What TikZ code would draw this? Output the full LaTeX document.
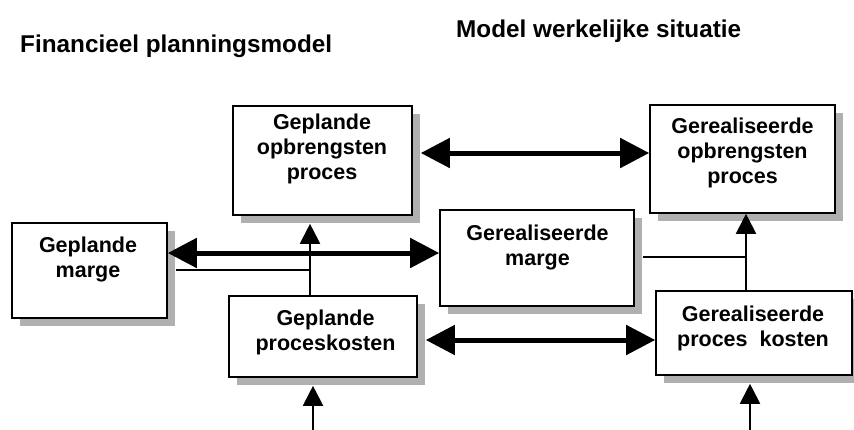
\documentclass[tikz,border=0pt]{standalone}
\usepackage{fontspec}
\setmainfont{Liberation Sans}
\usetikzlibrary{arrows.meta,shadows}
\begin{document}
\begin{tikzpicture}[x=1pt,y=-1pt,
  box/.style={draw, line width=1.6pt, fill=white, inner sep=0pt,
    general shadow={fill=gray!62, shadow xshift=8pt, shadow yshift=-8pt}},
  lbl/.style={font=\bfseries\fontsize{21.5}{25}\selectfont, align=center, inner sep=0pt},
  ttl/.style={font=\bfseries\fontsize{24.3}{28}\selectfont, inner sep=0pt},
  dbl/.style={line width=5pt, {Triangle[length=29pt,width=29pt]}-{Triangle[length=29pt,width=29pt]}},
  uparrow/.style={line width=2pt, -{Triangle[length=20pt,width=20pt]}},
  link/.style={line width=2pt}]
\useasboundingbox (0,0) rectangle (854,429);

% titles
\node[ttl, anchor=base west] (t1) at (20,52) {Financieel planningsmodel};
\node[ttl, anchor=base west] (t2) at (456,37) {Model werkelijke situatie};

% boxes
\node[box, minimum width=179pt, minimum height=109pt] (opl) at (322.5,160.5) {};
\node[box, minimum width=185pt, minimum height=108pt] (opr) at (742.5,159) {};
\node[box, minimum width=155pt, minimum height=95pt] (mgl) at (89.5,270.5) {};
\node[box, minimum width=194pt, minimum height=96pt] (mgr) at (537,258) {};
\node[box, minimum width=188pt, minimum height=81pt] (pkl) at (323,336.5) {};
\node[box, minimum width=196pt, minimum height=84pt] (pkr) at (754,333) {};

% box texts
\node[lbl] (opltxt) at (322,149) {Geplande\\opbrengsten\\proces};
\node[lbl] (oprtxt) at (742.5,153) {Gerealiseerde\\opbrengsten\\proces};
\node[lbl] (mgltxt) at (88,259) {Geplande\\marge};
\node[lbl] (mgrtxt) at (537.5,247) {Gerealiseerde\\marge};
\node[lbl] (pkltxt) at (325.5,332) {Geplande\\proceskosten};
\node[lbl] (pkrtxt) at (753,328) {Gerealiseerde\\proces\ \ kosten};

% helper points
\coordinate (rA) at (0,153);
\coordinate (rB) at (0,253);
\coordinate (rC) at (0,340);
\coordinate (jl) at (310,270);
\coordinate (jr) at (746,257);
\coordinate (inl) at (313,440);
\coordinate (inr) at (750,440);

% comparison arrows
\draw[dbl] ([xshift=8pt]opl.east |- rA) -- (opr.west |- rA);
\draw[dbl] (mgl.east |- rB) -- (mgr.west |- rB);
\draw[dbl] ([xshift=8pt]pkl.east |- rC) -- (pkr.west |- rC);

% left column links
\draw[link] ([xshift=8pt]mgl.east |- jl) -- (jl);
\draw[uparrow] (pkl.north -| jl) -- ([yshift=-8pt]opl.south -| jl);
\draw[uparrow] (inl) -- ([yshift=-8pt]pkl.south -| inl);

% right column links
\draw[link] ([xshift=8pt]mgr.east |- jr) -- (jr);
\draw[uparrow] (pkr.north -| jr) -- (opr.south -| jr);
\draw[uparrow] (inr) -- ([yshift=-8pt]pkr.south -| inr);
\end{tikzpicture}
\end{document}
